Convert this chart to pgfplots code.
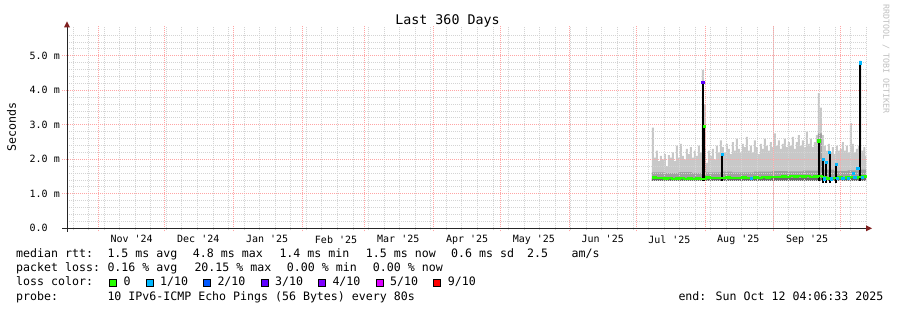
\documentclass[border=0pt]{standalone}
\usepackage{pgfplots}
\pgfplotsset{compat=1.18}
\usepackage{pgfplotstable}
\usepackage{fontspec}
\setmainfont{DejaVu Sans Mono}

\definecolor{smokeA}{RGB}{200,200,200}
\definecolor{smokeB}{RGB}{160,160,160}
\definecolor{smokeC}{RGB}{105,105,105}
\definecolor{lossA}{HTML}{26FF00}
\definecolor{lossB}{HTML}{00B8FF}
\definecolor{lossC}{HTML}{0059FF}
\definecolor{lossD}{HTML}{5E00FF}
\definecolor{lossE}{HTML}{7E00FF}
\definecolor{lossF}{HTML}{DD00FF}
\definecolor{lossJ}{HTML}{FF0000}
\definecolor{gridmajor}{RGB}{255,165,165}
\definecolor{gridminor}{RGB}{212,212,212}
\definecolor{arrowred}{RGB}{128,32,32}

\newcommand\lf{\fontsize{11.6bp}{14bp}\selectfont}
\newcommand\tf{\fontsize{10bp}{12bp}\selectfont}
\tikzset{gmaj/.style={draw=gridmajor, line width=0.9bp, dash pattern=on 1bp off 1bp},
         gmin/.style={draw=gridminor, line width=0.9bp, dash pattern=on 1bp off 1bp}}

% smoke top (light gray envelope), days since start
\pgfplotstableread{
x top
263.9 2.92
264.8 2.05
265.7 2.25
266.6 1.95
267.5 2.10
268.4 2.00
269.3 2.15
270.2 1.80
271.1 2.12
272.0 2.05
272.9 2.20
273.8 1.95
274.7 2.40
275.6 2.05
276.5 2.45
277.4 2.10
278.3 2.00
279.2 2.30
280.1 2.15
281.0 2.35
281.9 2.05
282.8 2.25
283.7 2.10
284.6 2.40
285.5 2.20
286.4 4.59
287.3 3.60
288.2 1.90
289.1 2.25
290.0 2.10
290.9 2.30
291.8 2.00
292.7 2.40
293.6 2.20
294.5 2.55
295.4 2.35
296.3 2.20
297.2 2.45
298.1 2.30
299.0 2.15
299.9 2.50
300.8 2.25
301.7 2.60
302.6 2.30
303.5 2.20
304.4 2.45
305.3 2.35
306.2 2.65
307.1 2.25
308.0 2.40
308.9 2.20
309.8 2.55
310.7 2.35
311.6 2.15
312.5 2.45
313.4 2.30
314.3 2.60
315.2 2.40
316.1 2.25
317.0 2.50
317.9 2.35
318.8 2.75
319.7 2.40
320.6 2.55
321.5 2.30
322.4 2.45
323.3 2.60
324.2 2.35
325.1 2.50
326.0 2.40
326.9 2.65
327.8 2.30
328.7 2.50
329.6 2.70
330.5 2.40
331.4 2.55
332.3 2.35
333.2 2.80
334.1 2.45
335.0 2.60
335.9 2.35
336.8 2.50
337.7 2.70
338.6 3.92
339.5 3.50
340.4 2.70
341.3 2.40
342.2 2.25
343.1 2.45
344.0 2.20
344.9 2.35
345.8 2.15
346.7 2.40
347.6 2.25
348.5 2.30
349.4 2.50
350.3 2.25
351.2 2.40
352.1 2.20
353.0 3.05
353.9 2.45
354.8 2.20
355.7 2.30
356.6 2.40
357.3 4.86
358.2 2.25
359.1 2.35
360.0 2.10
360.4 2.10
}\smoketop

% mid-gray band top
\pgfplotstableread{
x top
263.9 1.62
270.0 1.60
276.0 1.63
282.0 1.61
286.4 3.00
287.3 2.30
288.2 1.62
295.0 1.64
300.0 1.62
310.0 1.64
318.0 1.66
325.0 1.65
332.0 1.67
338.6 2.75
340.4 1.70
346.0 1.66
352.0 1.68
357.3 1.70
360.4 1.68
}\bandB

% median rtt (ms)
\pgfplotstableread{
x med
263.9 1.47
265.7 1.45
267.5 1.46
269.3 1.44
271.1 1.45
272.9 1.43
274.7 1.44
276.5 1.45
278.3 1.43
280.1 1.44
281.9 1.43
283.7 1.44
285.5 1.43
288.2 1.47
290.0 1.46
291.8 1.45
293.6 1.46
295.4 1.45
297.2 1.47
299.0 1.46
300.8 1.45
302.6 1.46
304.4 1.47
306.2 1.46
308.0 1.45
309.8 1.47
311.6 1.46
313.4 1.48
315.2 1.47
317.0 1.48
318.8 1.49
320.6 1.48
322.4 1.50
324.2 1.49
326.0 1.51
327.8 1.50
329.6 1.52
331.4 1.50
333.2 1.51
335.0 1.49
336.8 1.50
338.6 1.52
340.4 1.48
342.2 1.44
344.0 1.46
345.8 1.45
347.6 1.47
349.4 1.46
351.2 1.47
353.0 1.48
354.8 1.47
356.6 1.49
358.4 1.50
360.4 1.49
}\median

\begin{document}
\begin{tikzpicture}
\path (0,0) rectangle (897bp,310bp);
\begin{axis}[
  set layers,
  at={(67bp,81.7bp)}, anchor=south west,
  scale only axis, width=799bp, height=201.8bp,
  xmin=0.77, xmax=360.3, ymin=0, ymax=5.85,
  axis x line=bottom, axis y line=left,
  axis line style={draw=none},
  clip=false,
  xtick=\empty,
  extra x ticks={29.83,59.83,90.83,121.83,149.83,180.83,210.83,241.83,271.83,302.83,333.83},
  extra x tick labels={Nov \textquotesingle 24,Dec \textquotesingle 24,Jan \textquotesingle 25,Feb \textquotesingle 25,Mar \textquotesingle 25,Apr \textquotesingle 25,May \textquotesingle 25,Jun \textquotesingle 25,Jul \textquotesingle 25,Aug \textquotesingle 25,Sep \textquotesingle 25},
  extra x tick style={grid=none},
  ytick={0,1,2,3,4,5},
  yticklabels={{0.0\hphantom{ m}},{1.0 m},{2.0 m},{3.0 m},{4.0 m},{5.0 m}},
  grid=none,
  tick align=outside,
  major tick length=3bp,
  tick style={draw=none},
  xticklabel style={font=\tf, inner sep=0pt, anchor=north, yshift=-4bp},
  yticklabel style={font=\tf, inner sep=0pt, anchor=east, xshift=-4bp},
]
% light smoke
\addplot[on layer=axis background, fill=smokeA, draw=none, const plot] table[x=x,y=top]{\smoketop} \closedcycle;
% mid band
\addplot[on layer=axis background, fill=smokeB, draw=none, const plot] table[x=x,y=top]{\bandB} \closedcycle;
% dark band
\addplot[on layer=axis background, fill=smokeC, draw=none, const plot] coordinates {(263.9,1.46) (360.4,1.46)} \closedcycle;
% white below smoke
\addplot[on layer=axis background, fill=white, draw=none] coordinates {(263.4,1.36) (360.6,1.36)} \closedcycle;
% grid: weekly (minor) and monthly (major) verticals, 0.2 m / 1 m horizontals
\pgfplotsinvokeforeach{3.45,10.45,...,360}{\draw[gmin] (axis cs:#1,-0.06) -- (axis cs:#1,5.85);}
\pgfplotsinvokeforeach{0.2,0.4,0.6,0.8,1.2,1.4,1.6,1.8,2.2,2.4,2.6,2.8,3.2,3.4,3.6,3.8,4.2,4.4,4.6,4.8,5.2,5.4,5.6}{\draw[gmin] (axis cs:0.77,#1) -- (axis cs:360.3,#1);}
\pgfplotsinvokeforeach{14.83,44.83,75.83,106.83,134.83,165.83,195.83,226.83,256.83,287.83,318.83,348.83}{\draw[gmaj] (axis cs:#1,-0.09) -- (axis cs:#1,5.85);}
\pgfplotsinvokeforeach{1,2,3,4,5}{\draw[gmaj] (axis cs:-1.5,#1) -- (axis cs:360.3,#1);}
% dark spikes
\addplot[black, line width=2.2bp] coordinates {(286.85,1.38) (286.85,4.28)};
\addplot[black, line width=1.1bp] coordinates {(287.6,1.38) (287.6,2.95)};
\addplot[black, line width=2.0bp] coordinates {(295.5,1.38) (295.5,2.17)};
\addplot[black, line width=2.2bp] coordinates {(339.0,1.38) (339.0,2.56)};
\addplot[black, line width=2.0bp] coordinates {(341.1,1.32) (341.1,2.03)};
\addplot[black, line width=2.0bp] coordinates {(342.4,1.32) (342.4,1.93)};
\addplot[black, line width=2.0bp] coordinates {(343.9,1.32) (343.9,2.22)};
\addplot[black, line width=2.0bp] coordinates {(346.8,1.32) (346.8,1.88)};
\addplot[black, line width=2.2bp] coordinates {(357.75,1.38) (357.75,4.83)};
% median line (0 loss)
\addplot[lossA, line width=2.4bp, const plot] table[x=x,y=med]{\median};
% loss coloured median points
\addplot[only marks, mark=square*, mark size=1.1bp, lossD] coordinates {(286.85,4.24)};
\addplot[only marks, mark=square*, mark size=1.1bp, lossA] coordinates {(287.6,2.95) (339.0,2.54)};
\addplot[only marks, mark=square*, mark size=1.1bp, lossB] coordinates {(295.5,2.15) (341.1,2.0) (342.4,1.91) (343.9,2.2) (346.8,1.86) (357.75,4.8) (354.6,1.6) (356.6,1.74) (308.6,1.46) (341.6,1.44) (344.5,1.44) (347.2,1.45) (349.8,1.46) (352.3,1.46) (355.2,1.47) (358.6,1.47)};
\end{axis}
% axis lines and arrows
\draw[black!85, line width=1bp] (62bp,81.7bp) -- (867bp,81.7bp);
\draw[black!85, line width=1bp] (67bp,78bp) -- (67bp,284bp);
\fill[arrowred] (64bp,282.5bp) -- (70bp,282.5bp) -- (67bp,288.5bp) -- cycle;
\fill[arrowred] (866bp,78.7bp) -- (866bp,84.7bp) -- (872bp,81.7bp) -- cycle;
% title, axis label, watermark
\node[anchor=base, inner sep=0] at (447.5bp,285.5bp) {\fontsize{13.3bp}{15bp}\selectfont Last 360 Days};
\node[rotate=90, anchor=center, inner sep=0] at (11.5bp,183bp) {\lf Seconds};
\node[rotate=-90, anchor=center, inner sep=0, text=black!25] at (886bp,251bp) {\fontsize{8.3bp}{9bp}\selectfont RRDTOOL / TOBI OETIKER};
% legend line 1
\node[anchor=base west, inner sep=0] at (16bp,52.3bp) {\lf median rtt:};
\node[anchor=base west, inner sep=0] at (107.3bp,52.3bp) {\lf 1.5 ms avg};
\node[anchor=base west, inner sep=0] at (192.7bp,52.3bp) {\lf 4.8 ms max};
\node[anchor=base west, inner sep=0] at (279.3bp,52.3bp) {\lf 1.4 ms min};
\node[anchor=base west, inner sep=0] at (365.7bp,52.3bp) {\lf 1.5 ms now};
\node[anchor=base west, inner sep=0] at (451bp,52.3bp) {\lf 0.6 ms sd};
\node[anchor=base west, inner sep=0] at (527bp,52.3bp) {\lf 2.5};
\node[anchor=base west, inner sep=0] at (571.5bp,52.3bp) {\lf am/s};
% legend line 2
\node[anchor=base west, inner sep=0] at (16bp,38.3bp) {\lf packet loss:};
\node[anchor=base west, inner sep=0] at (107.3bp,38.3bp) {\lf 0.16 \% avg};
\node[anchor=base west, inner sep=0] at (194.3bp,38.3bp) {\lf 20.15 \% max};
\node[anchor=base west, inner sep=0] at (286.7bp,38.3bp) {\lf 0.00 \% min};
\node[anchor=base west, inner sep=0] at (372.7bp,38.3bp) {\lf 0.00 \% now};
% legend line 3
\node[anchor=base west, inner sep=0] at (16bp,24.3bp) {\lf loss color:};
\filldraw[fill=lossA, draw=black, line width=0.8bp] (109bp,23.6bp) rectangle ++(7.2bp,7.2bp);
\node[anchor=base west, inner sep=0] at (123.3bp,24.3bp) {\lf 0};
\filldraw[fill=lossB, draw=black, line width=0.8bp] (146bp,23.6bp) rectangle ++(7.2bp,7.2bp);
\node[anchor=base west, inner sep=0] at (160bp,24.3bp) {\lf 1/10};
\filldraw[fill=lossC, draw=black, line width=0.8bp] (203.3bp,23.6bp) rectangle ++(7.2bp,7.2bp);
\node[anchor=base west, inner sep=0] at (217.3bp,24.3bp) {\lf 2/10};
\filldraw[fill=lossD, draw=black, line width=0.8bp] (261bp,23.6bp) rectangle ++(7.2bp,7.2bp);
\node[anchor=base west, inner sep=0] at (275bp,24.3bp) {\lf 3/10};
\filldraw[fill=lossE, draw=black, line width=0.8bp] (318.3bp,23.6bp) rectangle ++(7.2bp,7.2bp);
\node[anchor=base west, inner sep=0] at (332.3bp,24.3bp) {\lf 4/10};
\filldraw[fill=lossF, draw=black, line width=0.8bp] (376bp,23.6bp) rectangle ++(7.2bp,7.2bp);
\node[anchor=base west, inner sep=0] at (390bp,24.3bp) {\lf 5/10};
\filldraw[fill=lossJ, draw=black, line width=0.8bp] (433.3bp,23.6bp) rectangle ++(7.2bp,7.2bp);
\node[anchor=base west, inner sep=0] at (447.7bp,24.3bp) {\lf 9/10};
% legend line 4
\node[anchor=base west, inner sep=0] at (16bp,10bp) {\lf probe:};
\node[anchor=base west, inner sep=0] at (107.3bp,10bp) {\lf 10 IPv6-ICMP Echo Pings (56 Bytes) every 80s};
\node[anchor=base west, inner sep=0] at (678.3bp,10bp) {\lf end: Sun Oct 12 04:06:33 2025};
\end{tikzpicture}
\end{document}
